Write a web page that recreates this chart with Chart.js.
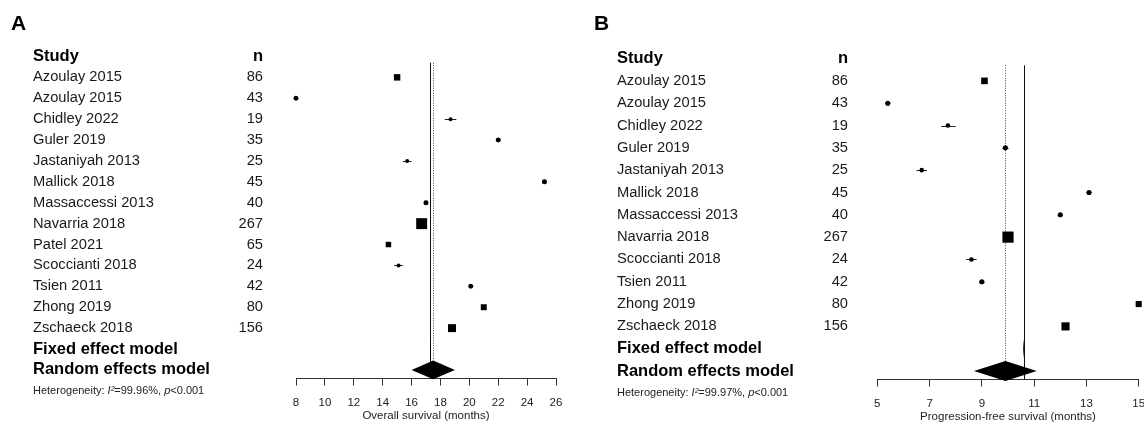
<!DOCTYPE html>
<html>
<head>
<meta charset="utf-8">
<script src="https://cdn.jsdelivr.net/npm/chart.js@4.4.1/dist/chart.umd.min.js"></script>
<style>
  html, body { margin: 0; padding: 0; background: #fff; overflow: hidden; width: 1144px; height: 426px; }
  canvas { position: absolute; top: 0; }
  #plotA { left: 0; }
  #plotB { left: 584px; }
</style>
</head>
<body>
<canvas id="plotA" width="583" height="426"></canvas>
<canvas id="plotB" width="580" height="426"></canvas>
<script>
// A: overall survival
const studiesA = ['Azoulay 2015', 'Azoulay 2015', 'Chidley 2022', 'Guler 2019', 'Jastaniyah 2013', 'Mallick 2018',
  'Massaccessi 2013', 'Navarria 2018', 'Patel 2021', 'Scoccianti 2018', 'Tsien 2011', 'Zhong 2019', 'Zschaeck 2018'];
const nA = [86, 43, 19, 35, 25, 45, 40, 267, 65, 24, 42, 80, 156];
const osMedian = [15.0, 8.0, 18.7, 22.0, 15.7, 25.2, 17.0, 16.7, 14.4, 15.1, 20.1, 21.0, 18.8];
const osLower  = [14.9, 7.9, 18.3, 21.9, 15.4, 25.1, 16.9, 16.6, 14.3, 14.8, 20.0, 20.9, 18.7];
const osUpper  = [15.1, 8.1, 19.1, 22.1, 16.0, 25.3, 17.1, 16.8, 14.5, 15.4, 20.2, 21.1, 18.9];
const osWeight = [9.0, 5.4, 3.4, 5.4, 3.4, 5.4, 5.4, 26.0, 6.4, 3.4, 5.4, 7.7, 13.7];
const osFixed  = [17.3, 17.28, 17.32];   // estimate, lower, upper
const osRandom = [17.5, 16.0, 19.0];
const osTicks  = [8, 10, 12, 14, 16, 18, 20, 22, 24, 26];
const osHet    = ['99.96%', '<0.001'];

// B: progression-free survival
const studiesB = ['Azoulay 2015', 'Azoulay 2015', 'Chidley 2022', 'Guler 2019', 'Jastaniyah 2013', 'Mallick 2018',
  'Massaccessi 2013', 'Navarria 2018', 'Scoccianti 2018', 'Tsien 2011', 'Zhong 2019', 'Zschaeck 2018'];
const nB = [86, 43, 19, 35, 25, 45, 40, 267, 24, 42, 80, 156];
const pfsMedian = [9.1, 5.4, 7.7, 9.9, 6.7, 13.1, 12.0, 10.0, 8.6, 9.0, 15.0, 12.2];
const pfsLower  = [9.0, 5.3, 7.45, 9.78, 6.5, 13.0, 11.9, 9.9, 8.4, 8.9, 14.9, 12.1];
const pfsUpper  = [9.2, 5.5, 8.0, 10.02, 6.9, 13.2, 12.1, 10.1, 8.8, 9.1, 15.1, 12.3];
const pfsWeight = [9.4, 5.6, 4.5, 5.6, 4.5, 5.6, 5.6, 27.0, 4.5, 5.6, 8.0, 14.3];
const pfsFixed  = [10.6, 10.58, 10.62];
const pfsRandom = [9.9, 8.7, 11.1];
const pfsTicks  = [5, 7, 9, 11, 13, 15];
const pfsHet    = ['99.97%', '<0.001'];

Chart.defaults.font.family = '"Liberation Sans", Arial, Helvetica, sans-serif';
Chart.defaults.color = '#111';

const FONT = '"Liberation Sans", Arial, Helvetica, sans-serif';
const markSize = w => 2.15 * Math.sqrt(w);

function forestPlugin(o) {
  const fixedRow = o.studies.length + 1;
  const randomRow = fixedRow + 1;
  const hetRow = randomRow + 1;
  const halfH = 0.45;

  function diamond(ctx, x, y, d, row) {
    const yc = y.getPixelForValue(row);
    const h = (y.getPixelForValue(row + halfH) - yc);
    ctx.beginPath();
    ctx.moveTo(x.getPixelForValue(d[1]), yc);
    ctx.lineTo(x.getPixelForValue(d[0]), yc - h);
    ctx.lineTo(x.getPixelForValue(d[2]), yc);
    ctx.lineTo(x.getPixelForValue(d[0]), yc + h);
    ctx.closePath();
    ctx.fill();
  }

  return {
    id: 'forest',
    beforeDatasetsDraw(chart) {
      const { ctx, chartArea } = chart;
      const x = chart.scales.x, y = chart.scales.y;
      const top = y.getPixelForValue(0.3);
      ctx.save();
      ctx.lineWidth = 1;
      // fixed effect line
      const xf = Math.round(x.getPixelForValue(o.fixed[0])) + 0.5;
      ctx.strokeStyle = '#111';
      ctx.beginPath();
      ctx.moveTo(xf, top);
      ctx.lineTo(xf, chartArea.bottom);
      ctx.stroke();
      // random effects line (dotted)
      const xr = Math.round(x.getPixelForValue(o.random[0])) + 0.5;
      ctx.strokeStyle = '#444';
      ctx.setLineDash([1, 1.5]);
      ctx.beginPath();
      ctx.moveTo(xr, top);
      ctx.lineTo(xr, y.getPixelForValue(randomRow - halfH));
      ctx.stroke();
      ctx.setLineDash([]);
      // confidence intervals
      ctx.strokeStyle = '#222';
      o.lo.forEach((lo, i) => {
        const yy = Math.round(y.getPixelForValue(i + 1)) + 0.5;
        ctx.beginPath();
        ctx.moveTo(x.getPixelForValue(lo), yy);
        ctx.lineTo(x.getPixelForValue(o.hi[i]), yy);
        ctx.stroke();
      });
      ctx.restore();
    },
    afterDatasetsDraw(chart) {
      const { ctx } = chart;
      const x = chart.scales.x, y = chart.scales.y;
      ctx.save();
      ctx.fillStyle = '#000';
      diamond(ctx, x, y, o.fixed, fixedRow);
      diamond(ctx, x, y, o.random, randomRow);
      ctx.restore();
    },
    afterDraw(chart) {
      const { ctx } = chart;
      const y = chart.scales.y;
      ctx.save();
      ctx.fillStyle = '#000';
      ctx.textBaseline = 'alphabetic';
      ctx.font = 'bold 21px ' + FONT;
      ctx.textAlign = 'left';
      ctx.fillText(o.letter, o.letterX, 30);

      ctx.textBaseline = 'middle';
      ctx.font = 'bold 16.5px ' + FONT;
      ctx.fillText('Study', o.labelX, y.getPixelForValue(0));
      ctx.textAlign = 'right';
      ctx.fillText('n', o.nX, y.getPixelForValue(0));

      ctx.font = '14.7px ' + FONT;
      ctx.fillStyle = '#1a1a1a';
      o.studies.forEach((s, i) => {
        const yy = y.getPixelForValue(i + 1);
        ctx.textAlign = 'left';
        ctx.fillText(s, o.labelX, yy);
        ctx.textAlign = 'right';
        ctx.fillText(String(o.n[i]), o.nX, yy);
      });

      ctx.fillStyle = '#000';
      ctx.textAlign = 'left';
      ctx.font = 'bold 16.5px ' + FONT;
      ctx.fillText('Fixed effect model', o.labelX, y.getPixelForValue(fixedRow));
      ctx.fillText('Random effects model', o.labelX, y.getPixelForValue(randomRow));

      // heterogeneity line with italic symbols
      const parts = [
        ['Heterogeneity: ', false], ['I²', true], ['=' + o.het[0] + ', ', false], ['p', true], [o.het[1], false]
      ];
      let hx = o.labelX;
      const hy = y.getPixelForValue(hetRow);
      ctx.fillStyle = '#222';
      parts.forEach(([t, it]) => {
        ctx.font = (it ? 'italic ' : '') + '11px ' + FONT;
        ctx.fillText(t, hx, hy);
        hx += ctx.measureText(t).width;
      });
      ctx.restore();
    }
  };
}

function forest(id, o) {
  const sizes = o.weight.map(markSize);
  new Chart(document.getElementById(id), {
    type: 'scatter',
    data: {
      datasets: [{
        data: o.est.map((v, i) => ({ x: v, y: i + 1 })),
        pointStyle: sizes.map(s => s > 5.2 ? 'rect' : 'circle'),
        pointRadius: sizes.map(s => s > 5.2 ? s / Math.SQRT2 : s / 2),
        pointBackgroundColor: '#000',
        pointBorderWidth: 0,
        borderWidth: 0,
        clip: false
      }]
    },
    options: {
      responsive: false,
      animation: false,
      events: [],
      layout: { padding: o.padding },
      plugins: { legend: { display: false }, tooltip: { enabled: false } },
      scales: {
        x: {
          type: 'linear',
          min: o.ticks[0],
          max: o.ticks[o.ticks.length - 1],
          ticks: { stepSize: o.ticks[1] - o.ticks[0], color: '#222', font: { size: 11.5 }, padding: 10, maxRotation: 0, autoSkip: false },
          grid: { drawOnChartArea: false, drawTicks: true, tickLength: 7, color: '#333' },
          border: { display: true, color: '#333', width: 1 },
          title: { display: true, text: o.xTitle, color: '#222', font: { size: 11.5 }, padding: { top: o.titleShift, bottom: 0 } }
        },
        y: { type: 'linear', display: false, reverse: true, min: -0.5, max: o.yMax }
      }
    },
    plugins: [forestPlugin(o)]
  });
}

forest('plotA', {
  letter: 'A', letterX: 11, labelX: 33, nX: 263,
  studies: studiesA, n: nA, est: osMedian, lo: osLower, hi: osUpper, weight: osWeight,
  fixed: osFixed, random: osRandom, ticks: osTicks, het: osHet,
  xTitle: 'Overall survival (months)',
  yMax: 15.41, titleShift: -10.5,
  padding: { left: 296, right: 27, top: 46, bottom: 3.4 }
});

forest('plotB', {
  letter: 'B', letterX: 10, labelX: 33, nX: 264,
  studies: studiesB, n: nB, est: pfsMedian, lo: pfsLower, hi: pfsUpper, weight: pfsWeight,
  fixed: pfsFixed, random: pfsRandom, ticks: pfsTicks, het: pfsHet,
  xTitle: 'Progression-free survival (months)',
  yMax: 14.38, titleShift: -10.5,
  padding: { left: 293.3, right: 25.3, top: 47.4, bottom: 2.4 }
});
</script>
</body>
</html>
